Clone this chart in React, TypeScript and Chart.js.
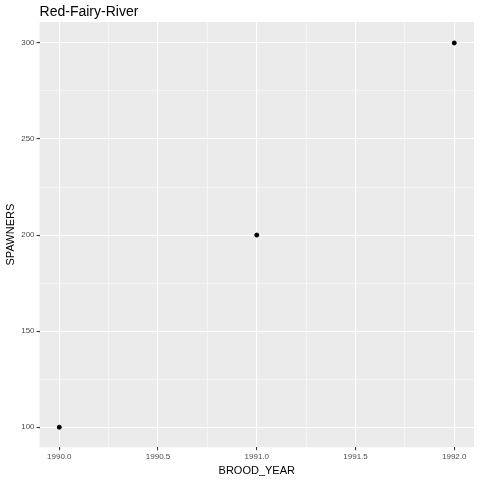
import React, { useEffect, useRef } from "react"
import { Chart, registerables } from "chart.js"

Chart.register(...registerables)

const broodYears = [1990, 1991, 1992]
const spawners = [100, 200, 300]
const chartTitle = "Red-Fairy-River"

const panelBg = {
	id: "panelBg",
	beforeDraw(chart: Chart) {
		const { ctx, chartArea } = chart
		ctx.save()
		ctx.fillStyle = "#EBEBEB"
		ctx.fillRect(chartArea.left, chartArea.top, chartArea.right - chartArea.left, chartArea.bottom - chartArea.top)
		ctx.restore()
	},
	afterDraw(chart: Chart) {
		// ggplot aligns the title with the panel, not the canvas
		const { ctx, chartArea } = chart
		ctx.save()
		ctx.fillStyle = "#000"
		ctx.font = "14px 'Liberation Sans'"
		ctx.textBaseline = "alphabetic"
		ctx.fillText(chartTitle, chartArea.left, 16)
		ctx.restore()
	},
}

const isMajor = (v: number, step: number) => Math.abs(v / step - Math.round(v / step)) < 1e-6

export default function App() {
	const chartRef = useRef<HTMLCanvasElement | null>(null)

	useEffect(() => {
		if (!chartRef.current) return
		document.body.style.margin = "0"
		const chart = new Chart(chartRef.current, {
			type: "scatter",
			data: {
				datasets: [
					{
						data: broodYears.map((x, i) => ({ x, y: spawners[i] })),
						backgroundColor: "#000",
						borderColor: "#000",
						pointRadius: 2,
					},
				],
			},
			options: {
				animation: false,
				responsive: false,
				layout: { padding: { left: 4, right: 6, top: 22, bottom: 0 } },
				plugins: {
					legend: { display: false },
					tooltip: { enabled: false },
				},
				scales: {
					x: {
						type: "linear",
						min: 1989.9,
						max: 1992.1,
						border: { display: false },
						grid: {
							color: "#fff",
							lineWidth: (c: any) => (isMajor(c.tick.value, 0.5) ? 1.1 : 0.5),
							tickColor: (c: any) => (isMajor(c.tick.value, 0.5) ? "#333" : "transparent"),
							tickLength: 3,
						},
						ticks: {
							stepSize: 0.25,
							includeBounds: false,
							autoSkip: false,
							maxRotation: 0,
							color: "#4D4D4D",
							font: { family: "Liberation Sans", size: 8 },
							padding: 2,
							callback: (v: any) => (isMajor(Number(v), 0.5) ? Number(v).toFixed(1) : ""),
						},
						title: {
							display: true,
							text: "BROOD_YEAR",
							color: "#000",
							font: { family: "Liberation Sans", size: 11 },
							padding: { top: 1, bottom: 2 },
						},
					},
					y: {
						type: "linear",
						min: 89.6,
						max: 310.9,
						border: { display: false },
						grid: {
							color: "#fff",
							lineWidth: (c: any) => (isMajor(c.tick.value, 50) ? 1.1 : 0.5),
							tickColor: (c: any) => (isMajor(c.tick.value, 50) ? "#333" : "transparent"),
							tickLength: 3,
						},
						ticks: {
							stepSize: 25,
							includeBounds: false,
							autoSkip: false,
							color: "#4D4D4D",
							font: { family: "Liberation Sans", size: 8 },
							padding: 2,
							callback: (v: any) => (isMajor(Number(v), 50) ? String(v) : ""),
						},
						title: {
							display: true,
							text: "SPAWNERS",
							color: "#000",
							font: { family: "Liberation Sans", size: 11 },
							padding: { top: 0, bottom: 2 },
						},
					},
				},
			},
			plugins: [panelBg],
		})
		return () => chart.destroy()
	}, [])

	return (
		<div style={{ width: 480, height: 480, background: "#fff" }}>
			<canvas ref={chartRef} width={480} height={480}></canvas>
		</div>
	)
}
